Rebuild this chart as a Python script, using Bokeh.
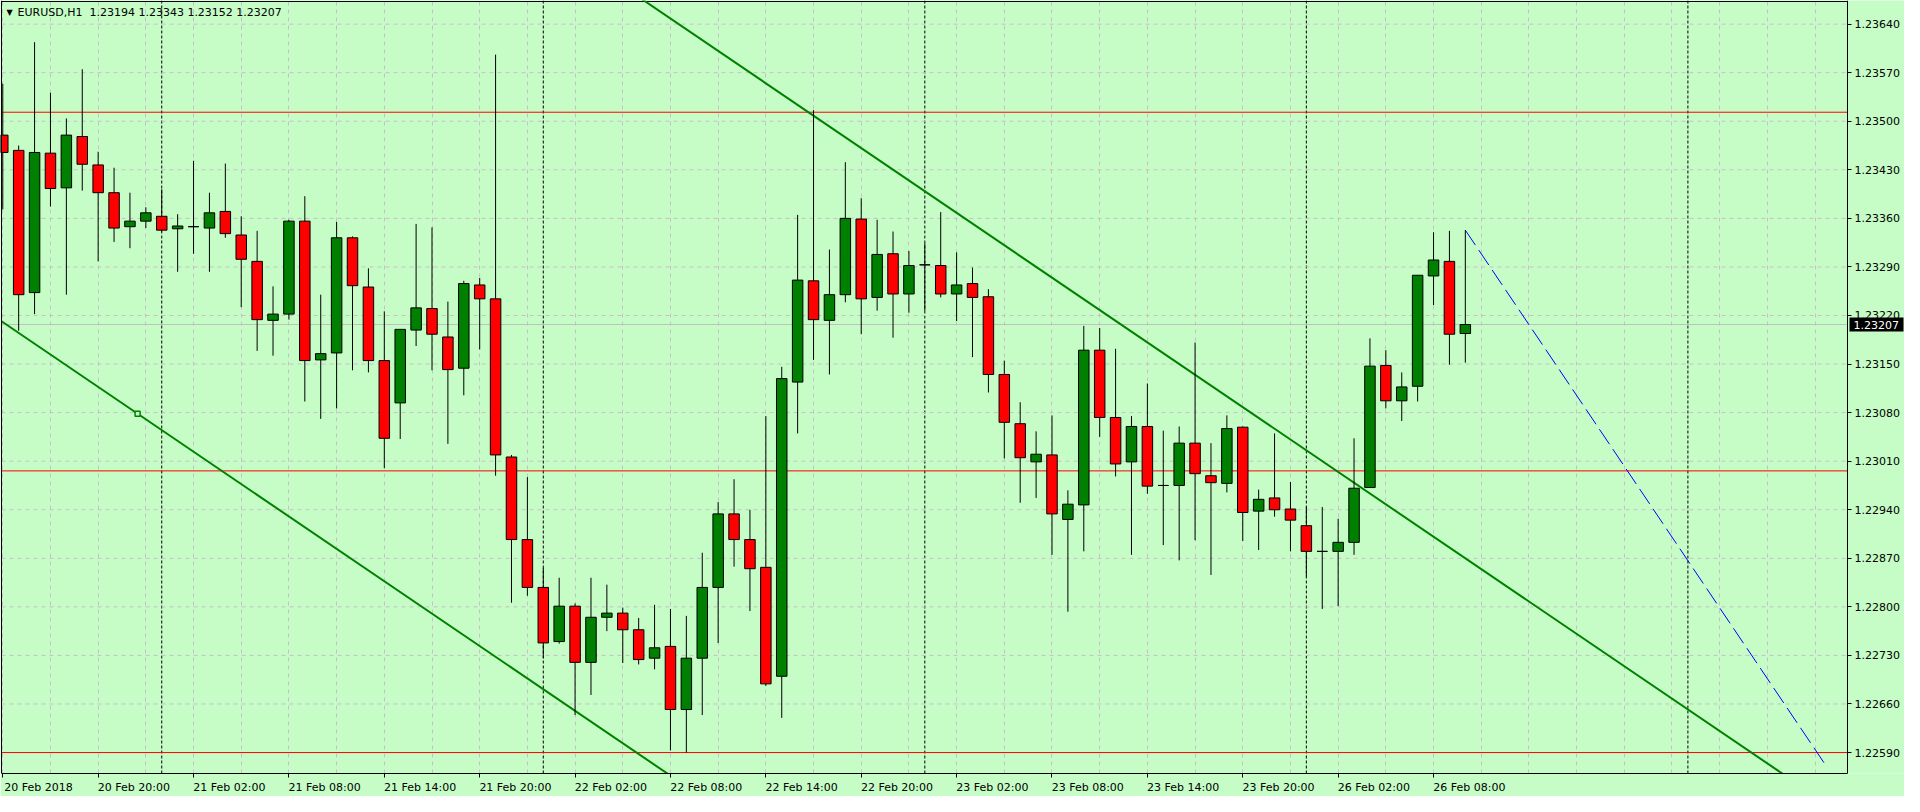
import numpy as np
from bokeh.plotting import figure
from bokeh.models import (ColumnDataSource, FixedTicker, LinearAxis, Range1d, Span,
                          Label, PrintfTickFormatter)
from bokeh.core.properties import value
from bokeh.embed import file_html
from bokeh.resources import INLINE

# ---------------- data (EURUSD H1, bar index 0 = 20 Feb 2018 14:00) ----------------
SYMBOL = "EURUSD,H1"

open_ = [1.23480, 1.23458, 1.23253, 1.23454, 1.23404, 1.23478, 1.23437, 1.23397, 1.23348, 1.23356,
         1.23363, 1.23345, 1.23348, 1.23346, 1.23370, 1.23336, 1.23298, 1.23213, 1.23222, 1.23356,
         1.23156, 1.23166, 1.23332, 1.23261, 1.23155, 1.23094, 1.23199, 1.23230, 1.23189, 1.23144,
         1.23264, 1.23244, 1.23016, 1.22897, 1.22828, 1.22750, 1.22801, 1.22720, 1.22785, 1.22791,
         1.22767, 1.22726, 1.22743, 1.22652, 1.22726, 1.22828, 1.22934, 1.22897, 1.22857, 1.22700,
         1.23124, 1.23270, 1.23213, 1.23250, 1.23359, 1.23246, 1.23309, 1.23251, 1.23293, 1.23292,
         1.23251, 1.23266, 1.23247, 1.23135, 1.23064, 1.23009, 1.23019, 1.22926, 1.22947, 1.23170,
         1.23073, 1.23009, 1.23060, 1.22975, 1.22975, 1.23036, 1.22989, 1.22978, 1.23059, 1.22938,
         1.22957, 1.22941, 1.22917, 1.22880, 1.22880, 1.22893, 1.22972, 1.23148, 1.23097, 1.23118,
         1.23277, 1.23298, 1.23194]

high = [1.23554, 1.23465, 1.23614, 1.23541, 1.23504, 1.23575, 1.23456, 1.23433, 1.23397, 1.23376,
        1.23402, 1.23366, 1.23443, 1.23397, 1.23439, 1.23363, 1.23342, 1.23262, 1.23358, 1.23392,
        1.23250, 1.23355, 1.23334, 1.23288, 1.23226, 1.23200, 1.23352, 1.23347, 1.23240, 1.23270,
        1.23274, 1.23596, 1.23019, 1.22987, 1.22856, 1.22842, 1.22805, 1.22842, 1.22832, 1.22799,
        1.22784, 1.22803, 1.22797, 1.22787, 1.22878, 1.22951, 1.22984, 1.22940, 1.23075, 1.23146,
        1.23365, 1.23516, 1.23315, 1.23441, 1.23389, 1.23358, 1.23341, 1.23313, 1.23324, 1.23369,
        1.23311, 1.23289, 1.23258, 1.23155, 1.23095, 1.23053, 1.23076, 1.22968, 1.23205, 1.23202,
        1.23172, 1.23075, 1.23122, 1.23054, 1.23060, 1.23181, 1.23036, 1.23076, 1.23060, 1.22969,
        1.23050, 1.22980, 1.22944, 1.22944, 1.22927, 1.23043, 1.23187, 1.23170, 1.23138, 1.23278,
        1.23340, 1.23342, 1.23343]

low = [1.23373, 1.23198, 1.23222, 1.23377, 1.23250, 1.23400, 1.23298, 1.23326, 1.23317, 1.23346,
       1.23341, 1.23283, 1.23309, 1.23283, 1.23332, 1.23232, 1.23169, 1.23162, 1.23214, 1.23096,
       1.23071, 1.23086, 1.23141, 1.23138, 1.23000, 1.23042, 1.23176, 1.23141, 1.23035, 1.23105,
       1.23171, 1.22989, 1.22806, 1.22816, 1.22726, 1.22747, 1.22644, 1.22673, 1.22765, 1.22719,
       1.22717, 1.22710, 1.22593, 1.22590, 1.22644, 1.22748, 1.22858, 1.22794, 1.22686, 1.22640,
       1.23050, 1.23156, 1.23135, 1.23239, 1.23193, 1.23227, 1.23188, 1.23224, 1.23227, 1.23246,
       1.23212, 1.23160, 1.23109, 1.23014, 1.22950, 1.22957, 1.22875, 1.22793, 1.22880, 1.23045,
       1.22988, 1.22875, 1.22963, 1.22889, 1.22867, 1.22896, 1.22846, 1.22965, 1.22895, 1.22882,
       1.22930, 1.22880, 1.22844, 1.22797, 1.22801, 1.22875, 1.22972, 1.23086, 1.23068, 1.23096,
       1.23235, 1.23149, 1.23152]

close = [1.23455, 1.23250, 1.23455, 1.23403, 1.23480, 1.23438, 1.23397, 1.23346, 1.23356, 1.23368,
         1.23343, 1.23349, 1.23348, 1.23368, 1.23338, 1.23301, 1.23214, 1.23222, 1.23356, 1.23155,
         1.23165, 1.23332, 1.23263, 1.23155, 1.23043, 1.23200, 1.23231, 1.23193, 1.23142, 1.23266,
         1.23244, 1.23019, 1.22897, 1.22828, 1.22748, 1.22801, 1.22720, 1.22785, 1.22791, 1.22767,
         1.22724, 1.22741, 1.22652, 1.22726, 1.22828, 1.22934, 1.22897, 1.22855, 1.22689, 1.23129,
         1.23271, 1.23214, 1.23250, 1.23360, 1.23244, 1.23308, 1.23251, 1.23292, 1.23293, 1.23251,
         1.23264, 1.23246, 1.23135, 1.23066, 1.23015, 1.23020, 1.22934, 1.22948, 1.23170, 1.23073,
         1.23006, 1.23060, 1.22974, 1.22975, 1.23036, 1.22992, 1.22979, 1.23057, 1.22936, 1.22955,
         1.22940, 1.22925, 1.22880, 1.22880, 1.22893, 1.22971, 1.23147, 1.23097, 1.23117, 1.23278,
         1.23300, 1.23193, 1.23207]

time_label_bars = [0, 6, 12, 18, 24, 30, 36, 42, 48, 54, 60, 66, 72, 78, 84, 90]
time_labels = ["20 Feb 2018", "20 Feb 20:00", "21 Feb 02:00", "21 Feb 08:00", "21 Feb 14:00",
               "21 Feb 20:00", "22 Feb 02:00", "22 Feb 08:00", "22 Feb 14:00", "22 Feb 20:00",
               "23 Feb 02:00", "23 Feb 08:00", "23 Feb 14:00", "23 Feb 20:00", "26 Feb 02:00",
               "26 Feb 08:00"]
day_separator_bars = [10, 34, 58, 82, 106]

price_ticks = [1.22590, 1.22660, 1.22730, 1.22800, 1.22870, 1.22940, 1.23010, 1.23080,
               1.23150, 1.23220, 1.23290, 1.23360, 1.23430, 1.23500, 1.23570, 1.23640]

hline_prices = [1.23513, 1.22996, 1.22590]

channel_lower_bars = [0, 8.48]
channel_lower_prices = [1.232105, 1.230785]
channel_upper_bars = [51, 92]
channel_upper_prices = [1.23508, 1.22870]
projection_bars = [92, 114.6]
projection_prices = [1.23343, 1.22574]

# ---------------- styling / geometry ----------------
BG = "#c6fdc6"
GRID = "#c8bfc8"
BULL = "#008000"
BEAR = "#ff0000"
LINE_GREEN = "#008000"
FONT = "DejaVu Sans"

X0, X1 = -0.08, 116.04           # visible bars in the chart area
Y0, Y1 = 1.225598, 1.236726      # visible prices in the chart area
W, H = 1904, 796
BOTTOM = 22                      # height of the time scale
PRICE_AREA = 57                  # width of the price scale
frame_w = W
frame_h = H - BOTTOM
ppb = (frame_w - 1 - PRICE_AREA) / (X1 - X0)     # pixels per bar
ppp = (frame_h - 1) / (Y1 - Y0)                  # pixels per price unit
XS, XE = X0 - 1 / ppb, X1 + PRICE_AREA / ppb
YS, YE = Y0, Y1 + 1 / ppp

p = figure(width=W, height=H, output_backend="svg", toolbar_location=None,
           x_range=Range1d(XS, XE), y_range=Range1d(YS, YE),
           y_axis_location=None,
           min_border_left=0, min_border_top=0, min_border_right=0, min_border_bottom=BOTTOM)
p.background_fill_color = BG
p.border_fill_color = BG
p.outline_line_color = None

# grid: vertical lines every 3 bars, horizontal lines at the price ticks (chart area only)
p.xgrid.ticker = FixedTicker(ticks=list(range(0, 116, 3)))
p.xgrid.grid_line_color = GRID
p.xgrid.grid_line_dash = "4 4"
p.ygrid.grid_line_color = None
p.multi_line(xs=[[X0, X1] for _ in price_ticks], ys=[[t, t] for t in price_ticks],
             line_color=GRID, line_dash="4 4", line_width=1)

# chart-area border (left, top); right border = price-scale axis line; bottom = time axis line
p.add_layout(Span(location=X0, dimension="height", line_color="black", line_width=1))
p.line([X0, X1], [Y1, Y1], line_color="black", line_width=1)

# price scale, drawn at the right edge of the chart area
ya = LinearAxis(fixed_location=X1, ticker=FixedTicker(ticks=price_ticks),
                formatter=PrintfTickFormatter(format="%.5f"),
                major_tick_out=4, major_tick_in=0, minor_tick_line_color=None,
                axis_line_color="black", major_label_standoff=3,
                major_label_text_font=FONT, major_label_text_font_size="11px",
                major_label_text_color="black")
p.add_layout(ya, "right")

# time scale: labels left-aligned at their tick (label centre shifted by half a label width),
# tick marks at the label bars drawn as minor ticks
LABEL_SHIFT = 36 / ppb
label_pos = [b + round(LABEL_SHIFT * 4) / 4 for b in time_label_bars]
xa = p.xaxis[0]
xa.bounds = (X0, X1)
xa.ticker = FixedTicker(ticks=label_pos, minor_ticks=time_label_bars)
xa.major_label_overrides = {pos: t for pos, t in zip(label_pos, time_labels)}
xa.major_tick_line_color = None
xa.major_tick_out = 4
xa.major_tick_in = 0
xa.minor_tick_line_color = "black"
xa.minor_tick_out = 4
xa.minor_tick_in = 0
xa.axis_line_color = "black"
xa.major_label_standoff = 3
xa.major_label_text_font = FONT
xa.major_label_text_font_size = "11px"
xa.major_label_text_color = "black"

# day separators
for b in day_separator_bars:
    p.add_layout(Span(location=b, dimension="height", line_color="black",
                      line_dash="3 2", line_width=1, level="underlay"))

# horizontal lines (red levels, grey bid line)
p.segment(x0=[X0] * len(hline_prices), y0=hline_prices, x1=[X1] * len(hline_prices),
          y1=hline_prices, line_color="#ff0000", line_width=1)
p.segment(x0=[X0], y0=[close[-1]], x1=[X1], y1=[close[-1]], line_color="#c0c0c0", line_width=1)


def extend(bx, py, b_from, b_to):
    slope = (py[1] - py[0]) / (bx[1] - bx[0])
    return [b_from, b_to], [py[0] + slope * (b_from - bx[0]), py[0] + slope * (b_to - bx[0])]


# channel + projection
lx, ly = extend(channel_lower_bars, channel_lower_prices, X0, 60)
p.line(lx, ly, line_color=LINE_GREEN, line_width=2)
ux, uy = extend(channel_upper_bars, channel_upper_prices, 20, X1)
p.line(ux, uy, line_color=LINE_GREEN, line_width=2)
p.scatter([channel_lower_bars[1]], [channel_lower_prices[1]], marker="square", size=5,
          fill_color=BG, line_color=LINE_GREEN, line_width=1.5)
p.line(projection_bars, projection_prices, line_color="#0000ff", line_width=1, line_dash="18 6")

# candles
o = np.array(open_)
c = np.array(close)
idx = np.arange(len(o))
colors = np.where(c > o, BULL, np.where(c < o, BEAR, "black"))
src = ColumnDataSource(dict(x=idx, top=np.maximum(o, c), bottom=np.minimum(o, c),
                            high=high, low=low, color=colors))
p.segment(x0="x", y0="high", x1="x", y1="low", source=src, line_color="black", line_width=1)
p.vbar(x="x", top="top", bottom="bottom", width=0.66, fill_color="color",
       line_color="black", line_width=1, source=src)

# title in the upper-left corner
top_y = Y1 - 11 / ppp
p.add_layout(Label(x=X0 + 5 / ppb, y=top_y, text="▼", text_font=FONT, text_font_size="8px",
                   text_baseline="middle", text_color="black"))
title = f"{SYMBOL}\u00a0\u00a0{open_[-1]:.5f} {high[-1]:.5f} {low[-1]:.5f} {close[-1]:.5f}"
p.add_layout(Label(x=X0 + 16 / ppb, y=top_y, text=title, text_font=FONT, text_font_size="11px",
                   text_baseline="middle", text_color="black"))

# current price marker on the price scale (drawn above the scale labels)
p.quad(left=[X1 + 2 / ppb], right=[X1 + (PRICE_AREA - 1) / ppb],
       bottom=[close[-1] - 7 / ppp], top=[close[-1] + 7 / ppp],
       fill_color="black", line_color=None, level="overlay")
p.text(x=[X1 + 6 / ppb], y=[close[-1]], text=[f"{close[-1]:.5f}"],
       text_font=value(FONT), text_font_size="11px", text_color="white",
       text_baseline="middle", text_align="left", level="overlay")

open("out.html", "w").write(file_html(p, INLINE))
